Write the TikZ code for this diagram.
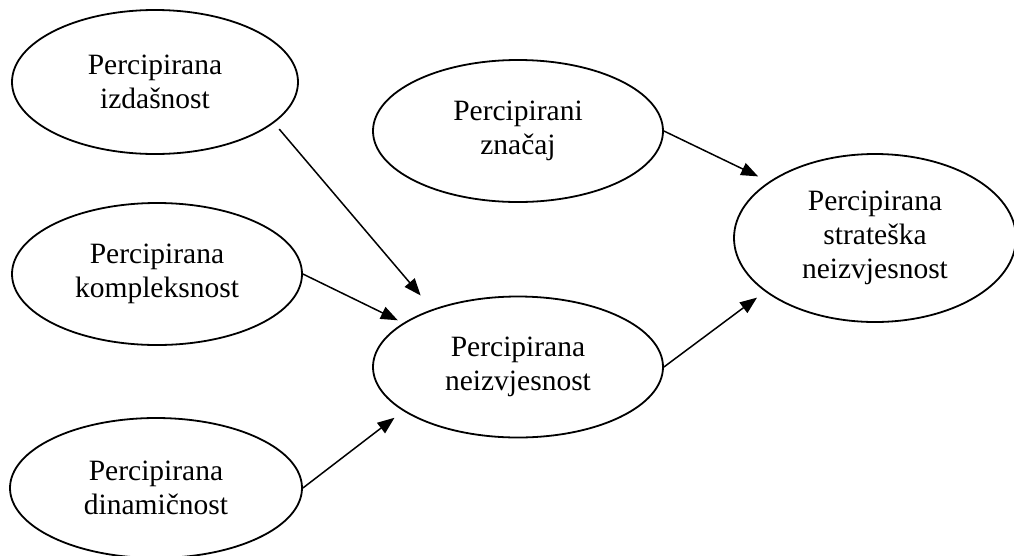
\documentclass[tikz,border=0pt]{standalone}
\usepackage{fontspec}
\setmainfont{Liberation Serif}
\usetikzlibrary{shapes.geometric,arrows.meta}
\begin{document}
\begin{tikzpicture}[x=1pt,y=-1pt,
  var/.style={ellipse,draw=black,line width=1.8pt,inner sep=0pt,align=center,
    font=\fontsize{29.5}{34}\selectfont},
  arr/.style={line width=1.5pt,-{Triangle[length=17pt,width=13pt]}}]
\useasboundingbox (0,0) rectangle (1014,555);
\node[var,minimum width=286pt,minimum height=144pt] (e1) at (155,82) {Percipirana\\izdašnost};
\node[var,minimum width=290pt,minimum height=142pt] (e2) at (157,274) {Percipirana\\kompleksnost};
\node[var,minimum width=292pt,minimum height=140pt] (e3) at (156,488) {Percipirana\\dinamičnost};
\node[var,minimum width=290pt,minimum height=142pt] (e4) at (518,131) {Percipirani\\značaj};
\node[var,minimum width=290pt,minimum height=141pt] (e5) at (518,367) {Percipirana\\neizvjesnost};
\node[var,minimum width=282pt,minimum height=168pt] (e6) at (875,238) {Percipirana\\strateška\\neizvjesnost};
\draw[arr,shorten <=8pt,shorten >=18pt] (e1.-19.7) -- (e5.146.4);
\draw[arr,shorten >=6pt] (e2.east) -- (e5.159.9);
\draw[arr,shorten >=11pt] (e3.east) -- (e5.201.7);
\draw[arr,shorten >=12pt] (e4.east) -- (e6.152.7);
\draw[arr,shorten >=10pt] (e5.east) -- (e6.206);
\end{tikzpicture}
\end{document}
